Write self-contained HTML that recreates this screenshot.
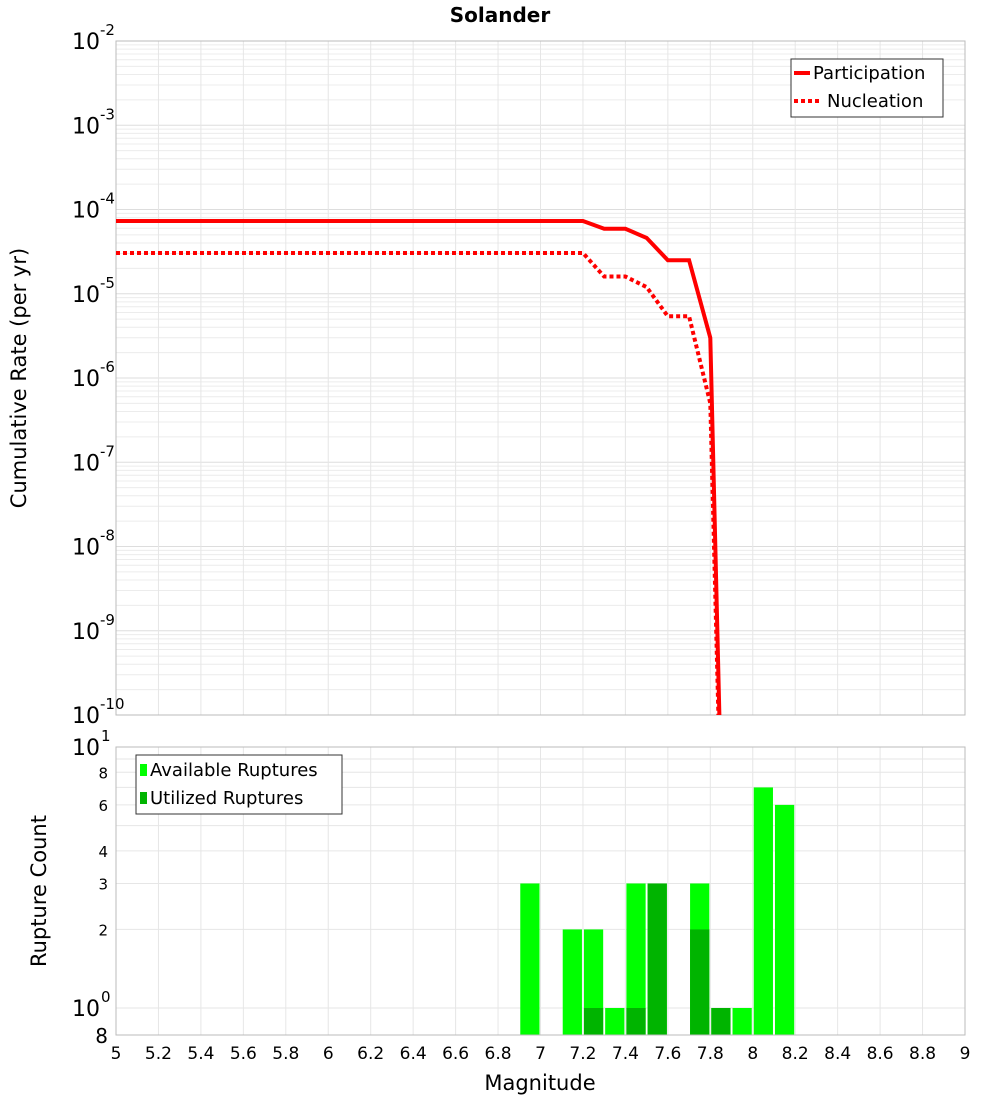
<!DOCTYPE html>
<html><head><meta charset="utf-8"><style>
body{margin:0;background:#fff}
svg{font-family:"DejaVu Sans","Liberation Sans",sans-serif}
</style></head><body>
<svg id="c" width="1000" height="1100" xmlns="http://www.w3.org/2000/svg">
<text x="500" y="22" text-anchor="middle" font-weight="bold" font-size="20">Solander</text>
<g id="top"></g>
<g id="bot"></g>
<text transform="translate(26,378) rotate(-90)" text-anchor="middle" font-size="21">Cumulative Rate (per yr)</text>
<text transform="translate(46,891) rotate(-90)" text-anchor="middle" font-size="21">Rupture Count</text>
<text x="540" y="1090" text-anchor="middle" font-size="21">Magnitude</text>
</svg>
<script>
const partMags=[5,5.1,5.2,5.3,5.4,5.5,5.6,5.7,5.8,5.9,6,6.1,6.2,6.3,6.4,6.5,6.6,6.7,6.8,6.9,7,7.1,7.2,7.3,7.4,7.5,7.6,7.7,7.8,7.9];
const partVals=[7.3e-5,7.3e-5,7.3e-5,7.3e-5,7.3e-5,7.3e-5,7.3e-5,7.3e-5,7.3e-5,7.3e-5,7.3e-5,7.3e-5,7.3e-5,7.3e-5,7.3e-5,7.3e-5,7.3e-5,7.3e-5,7.3e-5,7.3e-5,7.3e-5,7.3e-5,7.3e-5,5.9e-5,5.9e-5,4.6e-5,2.5e-5,2.5e-5,3e-6,1e-16];
const nuclVals=[3.05e-5,3.05e-5,3.05e-5,3.05e-5,3.05e-5,3.05e-5,3.05e-5,3.05e-5,3.05e-5,3.05e-5,3.05e-5,3.05e-5,3.05e-5,3.05e-5,3.05e-5,3.05e-5,3.05e-5,3.05e-5,3.05e-5,3.05e-5,3.05e-5,3.05e-5,3.05e-5,1.6e-5,1.6e-5,1.2e-5,5.4e-6,5.4e-6,5e-7,1e-16];
const binMags=[6.95,7.15,7.25,7.35,7.45,7.55,7.75,7.85,7.95,8.05,8.15];
const availCounts=[3,2,2,1,3,3,3,1,1,7,6];
const usedCounts=[0,0,1,0,1,3,2,1,0,0,0];
const xTicks=[5,5.2,5.4,5.6,5.8,6,6.2,6.4,6.6,6.8,7,7.2,7.4,7.6,7.8,8,8.2,8.4,8.6,8.8,9];
const topExps=[-2,-3,-4,-5,-6,-7,-8,-9,-10];

const NS="http://www.w3.org/2000/svg";
const X0=116,X1=965,T0=41,T1=715,B0=747,B1=1035;
const xs=m=>X0+(m-5)/4*(X1-X0);
const yt=v=>T0+(-2-Math.log10(v))*(T1-T0)/8;
const yb=v=>1008-Math.log10(v)*261;
function mk(p,tag,at){const e=document.createElementNS(NS,tag);for(const k in at)e.setAttribute(k,at[k]);p.appendChild(e);return e;}
const topG=document.getElementById('top'),botG=document.getElementById('bot');
const defs=mk(topG,'defs',{});
const cp=mk(defs,'clipPath',{id:'ct'});mk(cp,'rect',{x:X0,y:T0,width:X1-X0,height:T1-T0});
for(let d=-10;d<-2;d++)for(let k=1;k<10;k++){const y=yt(k*Math.pow(10,d));
 const g=mk(topG,'line',{x1:X0,x2:X1,y1:y,y2:y,stroke:k==1?'#ddd':'#ececec','stroke-width':1});
 
 }
for(const t of xTicks){const x=xs(t);
 const g=mk(topG,'line',{x1:x,x2:x,y1:T0,y2:T1,stroke:'#e6e6e6'});
 
 
 const g2=mk(botG,'line',{x1:x,x2:x,y1:B0,y2:B1,stroke:'#e6e6e6'});
 
 }
const fr=mk(topG,'rect',{x:X0,y:T0,width:X1-X0,height:T1-T0,fill:'none',stroke:'#bbb'});


function pts(vals){return partMags.map((m,i)=>xs(m)+','+yt(vals[i])).join(' ');}
const pl=mk(topG,'polyline',{points:pts(partVals),fill:'none',stroke:'#f00','stroke-width':4,'clip-path':'url(#ct)'});


const nl=mk(topG,'polyline',{points:pts(nuclVals),fill:'none',stroke:'#f00','stroke-width':4,'stroke-dasharray':'4,3','clip-path':'url(#ct)'});


for(const e of topExps){const y=yt(Math.pow(10,e));
 const t=mk(topG,'text',{x:100,y:y+8,'text-anchor':'end','font-size':22});t.textContent='10';
 
 
 const s=mk(topG,'text',{x:100,y:y-6,'font-size':15});s.textContent=String(e);
 
 }
const lg=mk(topG,'g',{});


mk(lg,'rect',{x:791,y:59,width:152,height:58,fill:'#fff',stroke:'#333'});
mk(lg,'line',{x1:794,x2:810,y1:73,y2:73,stroke:'#f00','stroke-width':4});
mk(lg,'line',{x1:794,x2:822,y1:101,y2:101,stroke:'#f00','stroke-width':4,'stroke-dasharray':'4,3'});
let t1=mk(lg,'text',{x:813,y:79,'font-size':18});t1.textContent='Participation';


let t2=mk(lg,'text',{x:827,y:107,'font-size':18});t2.textContent='Nucleation';


for(const v of [1,2,3,4,5,6,7,8,9,10]){const y=yb(v);
 const g=mk(botG,'line',{x1:X0,x2:X1,y1:y,y2:y,stroke:'#e6e6e6'});
 
 }
const bw=(xs(0.1+5)-X0)-2;
binMags.forEach((m,i)=>{const x=xs(m)-bw/2;
 const y=yb(availCounts[i]);
 const r=mk(botG,'rect',{x:x,y:y,width:bw,height:B1-y,fill:'#00ff00'});
 
 
 if(usedCounts[i]>0){const y2=yb(usedCounts[i]);
  const r2=mk(botG,'rect',{x:x,y:y2,width:bw,height:B1-y2,fill:'#00b400'});
  
  }
});
const bf=mk(botG,'rect',{x:X0,y:B0,width:X1-X0,height:B1-B0,fill:'none',stroke:'#bbb'});


for(const v of [2,3,4,6,8]){const t=mk(botG,'text',{x:108,y:yb(v)+6,'text-anchor':'end','font-size':15});t.textContent=String(v);
 
 }
for(const [v,ex] of [[1,'0'],[10,'1']]){const y=yb(v);
 const t=mk(botG,'text',{x:100,y:y+8,'text-anchor':'end','font-size':22});t.textContent='10';
 
 
 const s=mk(botG,'text',{x:101,y:y-6,'font-size':15});s.textContent=ex;
 
 }
let t8=mk(botG,'text',{x:108,y:1043,'text-anchor':'end','font-size':20});t8.textContent='8';


for(const t of xTicks){const e=mk(botG,'text',{x:xs(t),y:1059,'text-anchor':'middle','font-size':17});e.textContent=String(t);
 
 }
const lb=mk(botG,'g',{});


mk(lb,'rect',{x:136,y:755,width:206,height:59,fill:'#fff',stroke:'#333'});
mk(lb,'rect',{x:140,y:764,width:7,height:12,fill:'#00ff00'});
mk(lb,'rect',{x:140,y:792,width:7,height:12,fill:'#00b400'});
let l1=mk(lb,'text',{x:150,y:776,'font-size':18});l1.textContent='Available Ruptures';


let l2=mk(lb,'text',{x:150,y:804,'font-size':18});l2.textContent='Utilized Ruptures';


</script>
</body></html>
